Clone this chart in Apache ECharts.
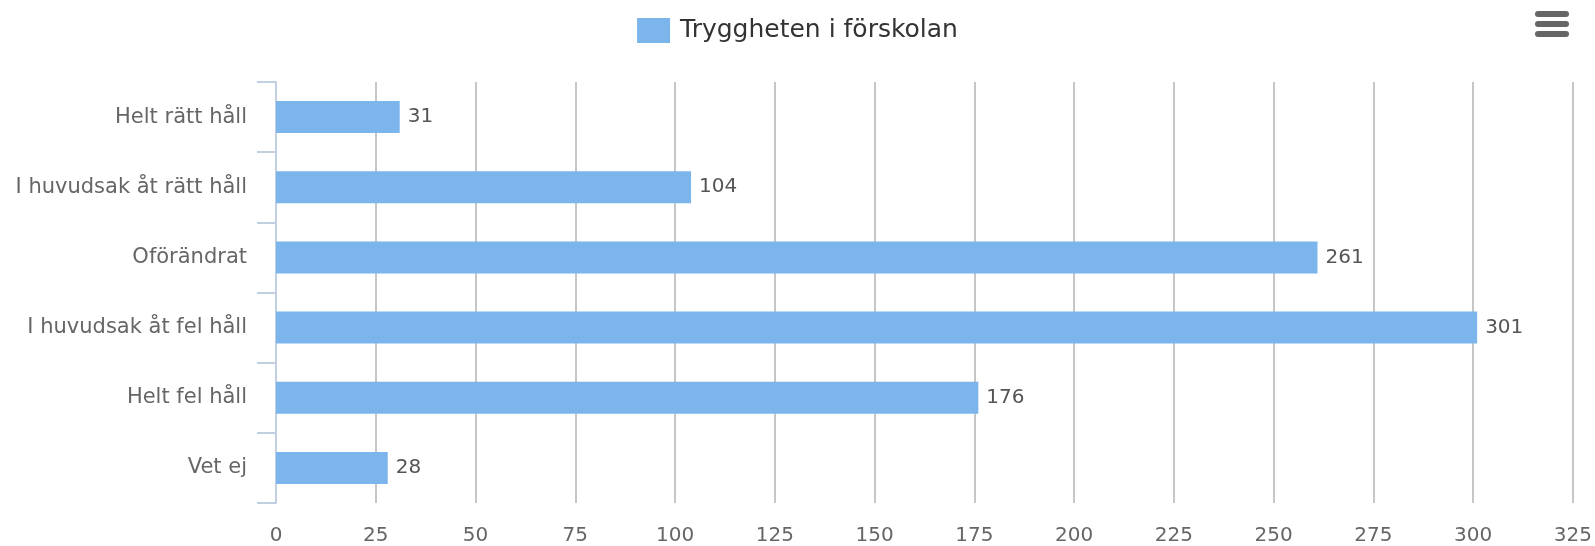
<!DOCTYPE html>
<html lang="sv">
<head>
    <meta charset="UTF-8">
    <title>Tryggheten i förskolan</title>
    <style>
        html, body { margin: 0; padding: 0; background: #fff; }
    </style>
</head>
<body>
<div id="chartBox" style="width: 1595px;height: 546px;"></div>
<script type="text/javascript" src="https://cdn.jsdelivr.net/npm/echarts@6/dist/echarts.min.js"></script>
<script type="text/javascript">
    var seriesName = 'Tryggheten i förskolan';
    var categories = ['Helt rätt håll', 'I huvudsak åt rätt håll', 'Oförändrat', 'I huvudsak åt fel håll', 'Helt fel håll', 'Vet ej'];
    var values = [31, 104, 261, 301, 176, 28];
    var xTicks = [0, 25, 50, 75, 100, 125, 150, 175, 200, 225, 250, 275, 300, 325];

    var myChart = echarts.init(document.getElementById('chartBox'));
    var font = '"DejaVu Sans", sans-serif';

    myChart.setOption({
        animation: false,
        legend: {
            data: [{ name: seriesName, icon: 'rect' }],
            top: 13,
            left: 'center',
            itemWidth: 33,
            itemHeight: 25,
            itemGap: 10,
            textStyle: { fontFamily: font, fontSize: 25, color: '#333', padding: [0, 0, 0, 5] }
        },
        // menu icon, top right
        graphic: [
            { type: 'rect', shape: { x: 1535, y: 11, width: 34, height: 6, r: 3 }, style: { fill: '#666' } },
            { type: 'rect', shape: { x: 1535, y: 21, width: 34, height: 6, r: 3 }, style: { fill: '#666' } },
            { type: 'rect', shape: { x: 1535, y: 31, width: 34, height: 6, r: 3 }, style: { fill: '#666' } }
        ],
        grid: { left: 276, right: 20, top: 82, bottom: 43, containLabel: false },
        xAxis: {
            type: 'value',
            min: xTicks[0],
            max: xTicks[xTicks.length - 1],
            interval: 25,
            axisLine: { show: false },
            axisTick: { show: false },
            axisLabel: { fontFamily: font, fontSize: 20, color: '#666', margin: 23 },
            splitLine: { lineStyle: { color: '#c6c6c6', width: 2 } }
        },
        yAxis: {
            type: 'category',
            data: categories,
            inverse: true,
            axisLine: { show: true, lineStyle: { color: '#c0d0e0', width: 2 } },
            axisTick: { show: true, length: 19, lineStyle: { color: '#c0d0e0', width: 2 } },
            axisLabel: { fontFamily: font, fontSize: 21, color: '#666', margin: 29 }
        },
        series: [{
            name: seriesName,
            type: 'bar',
            data: values,
            barWidth: 32,
            itemStyle: { color: '#7cb5ec' },
            label: {
                show: true,
                position: 'right',
                distance: 8,
                fontFamily: font,
                fontSize: 20,
                color: '#555'
            }
        }]
    });
</script>
</body>
</html>
